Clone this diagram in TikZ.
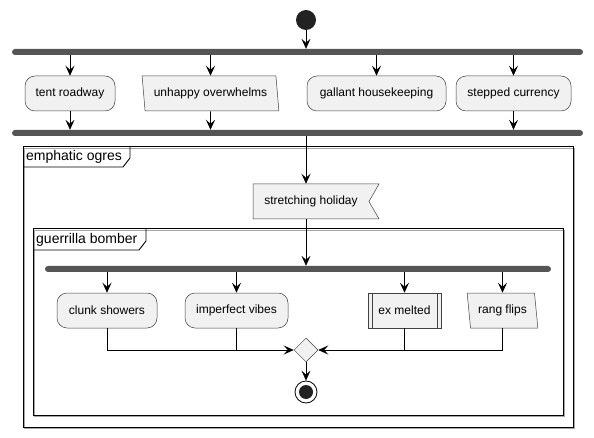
\documentclass[tikz,border=0pt]{standalone}
\usepackage{fontspec}
\setmainfont{Liberation Sans}
\usetikzlibrary{arrows.meta,shapes.geometric,shapes.symbols}
\definecolor{actfill}{HTML}{F1F1F1}
\definecolor{barfill}{HTML}{555555}
\definecolor{dotfill}{HTML}{222222}

\begin{document}
\begin{tikzpicture}[x=1pt,y=-1pt,
  box/.style={draw=black!75,line width=0.5pt,fill=actfill,minimum height=35pt,inner sep=0pt,font=\fontsize{12}{14}\selectfont},
  act/.style={box,rounded corners=10pt},
  para/.style={box,trapezium,trapezium left angle=103,trapezium right angle=77,trapezium stretches=true},
  bar/.style={fill=barfill,rounded corners=3pt,minimum height=6pt,inner sep=0pt},
  flow/.style={line width=0.8pt,-{Stealth[length=10pt,width=9pt,inset=4pt]}},
  joint/.style={line width=0.8pt},
  frm/.style={line width=1pt,preaction={draw=black!35,transform canvas={shift={(1.5pt,-1.5pt)}}}},
  frmlab/.style={anchor=west,inner sep=0pt,font=\fontsize{14}{16}\selectfont}]
  \useasboundingbox (0,0) rectangle (594,438);

  \draw[frm] (23,147) rectangle (573,427);
  \node[frmlab] (ogres) at (26,157) {emphatic ogres};
  \draw[line width=0.9pt] (23,167) -- (123,167) -- (130,158) -- (130,147);
  \draw[frm] (33,229) rectangle (563,415);
  \node[frmlab] (bomber) at (36,239.5) {guerrilla bomber};
  \draw[line width=0.9pt] (33,250) -- (139,250) -- (146,241) -- (146,229);

  \node[circle,fill=dotfill,minimum size=20pt,inner sep=0pt] (start) at (306,20) {};
  \node[bar,minimum width=571pt] (fork1) at (297.5,52) {};
  \node[act,minimum width=90pt] (tr) at (70,93.5) {tent roadway};
  \node[para,minimum width=137pt] (uo) at (210.5,93.5) {unhappy overwhelms};
  \node[act,minimum width=139pt] (gh) at (376.5,93.5) {gallant housekeeping};
  \node[act,minimum width=115pt] (sc) at (513.5,93.5) {stepped currency};
  \node[bar,minimum width=571pt] (fork2) at (297.5,133) {};
  \node[box,signal,signal to=nowhere,signal from=east,signal pointer angle=120,minimum width=126pt] (sh) at (311,201.5) {stretching holiday};
  \node[bar,minimum width=506pt] (fork3) at (298,269) {};
  \node[act,minimum width=100pt] (cs) at (107,310.5) {clunk showers};
  \node[act,minimum width=103pt] (iv) at (236.5,310.5) {imperfect vibes};
  \node[box,minimum width=73pt] (em) at (404.5,310.5) {ex melted};
  \draw[black!75,line width=0.5pt] ([xshift=4pt]em.north west) -- ([xshift=4pt]em.south west);
  \draw[black!75,line width=0.5pt] ([xshift=-4pt]em.north east) -- ([xshift=-4pt]em.south east);
  \node[para,minimum width=71pt] (rf) at (502.5,310.5) {rang flips};
  \node[box,diamond,minimum width=24pt,minimum height=24pt] (merge) at (306,350) {};
  \node[circle,draw,line width=0.8pt,minimum size=22pt,inner sep=0pt] (stop) at (306,392) {};
  \node[circle,fill=dotfill,minimum size=14pt,inner sep=0pt] (stopdot) at (stop) {};

  \draw[flow] (start) -- (start |- fork1.north);
  \draw[flow] (tr |- fork1.south) -- (tr.north);
  \draw[flow] (uo |- fork1.south) -- (uo.north);
  \draw[flow] (gh |- fork1.south) -- (gh.north);
  \draw[flow] (sc |- fork1.south) -- (sc.north);
  \draw[flow] (tr.south) -- (tr |- fork2.north);
  \draw[flow] (uo.south) -- (uo |- fork2.north);
  \draw[flow] (sc.south) -- (sc |- fork2.north);
  \draw[flow] (start |- fork2.south) -- (start |- sh.north);
  \draw[flow] (start |- sh.south) -- (start |- fork3.north);
  \draw[flow] (cs |- fork3.south) -- (cs.north);
  \draw[flow] (iv |- fork3.south) -- (iv.north);
  \draw[flow] (em |- fork3.south) -- (em.north);
  \draw[flow] (rf |- fork3.south) -- (rf.north);
  \draw[flow] (cs.south) |- (merge.west);
  \draw[joint] (iv.south) -- (iv |- merge.west);
  \draw[flow] (em.south) |- (merge.east);
  \draw[joint] (rf.south) |- (em |- merge.east);
  \draw[flow] (merge.south) -- (stop.north);
\end{tikzpicture}
\end{document}
